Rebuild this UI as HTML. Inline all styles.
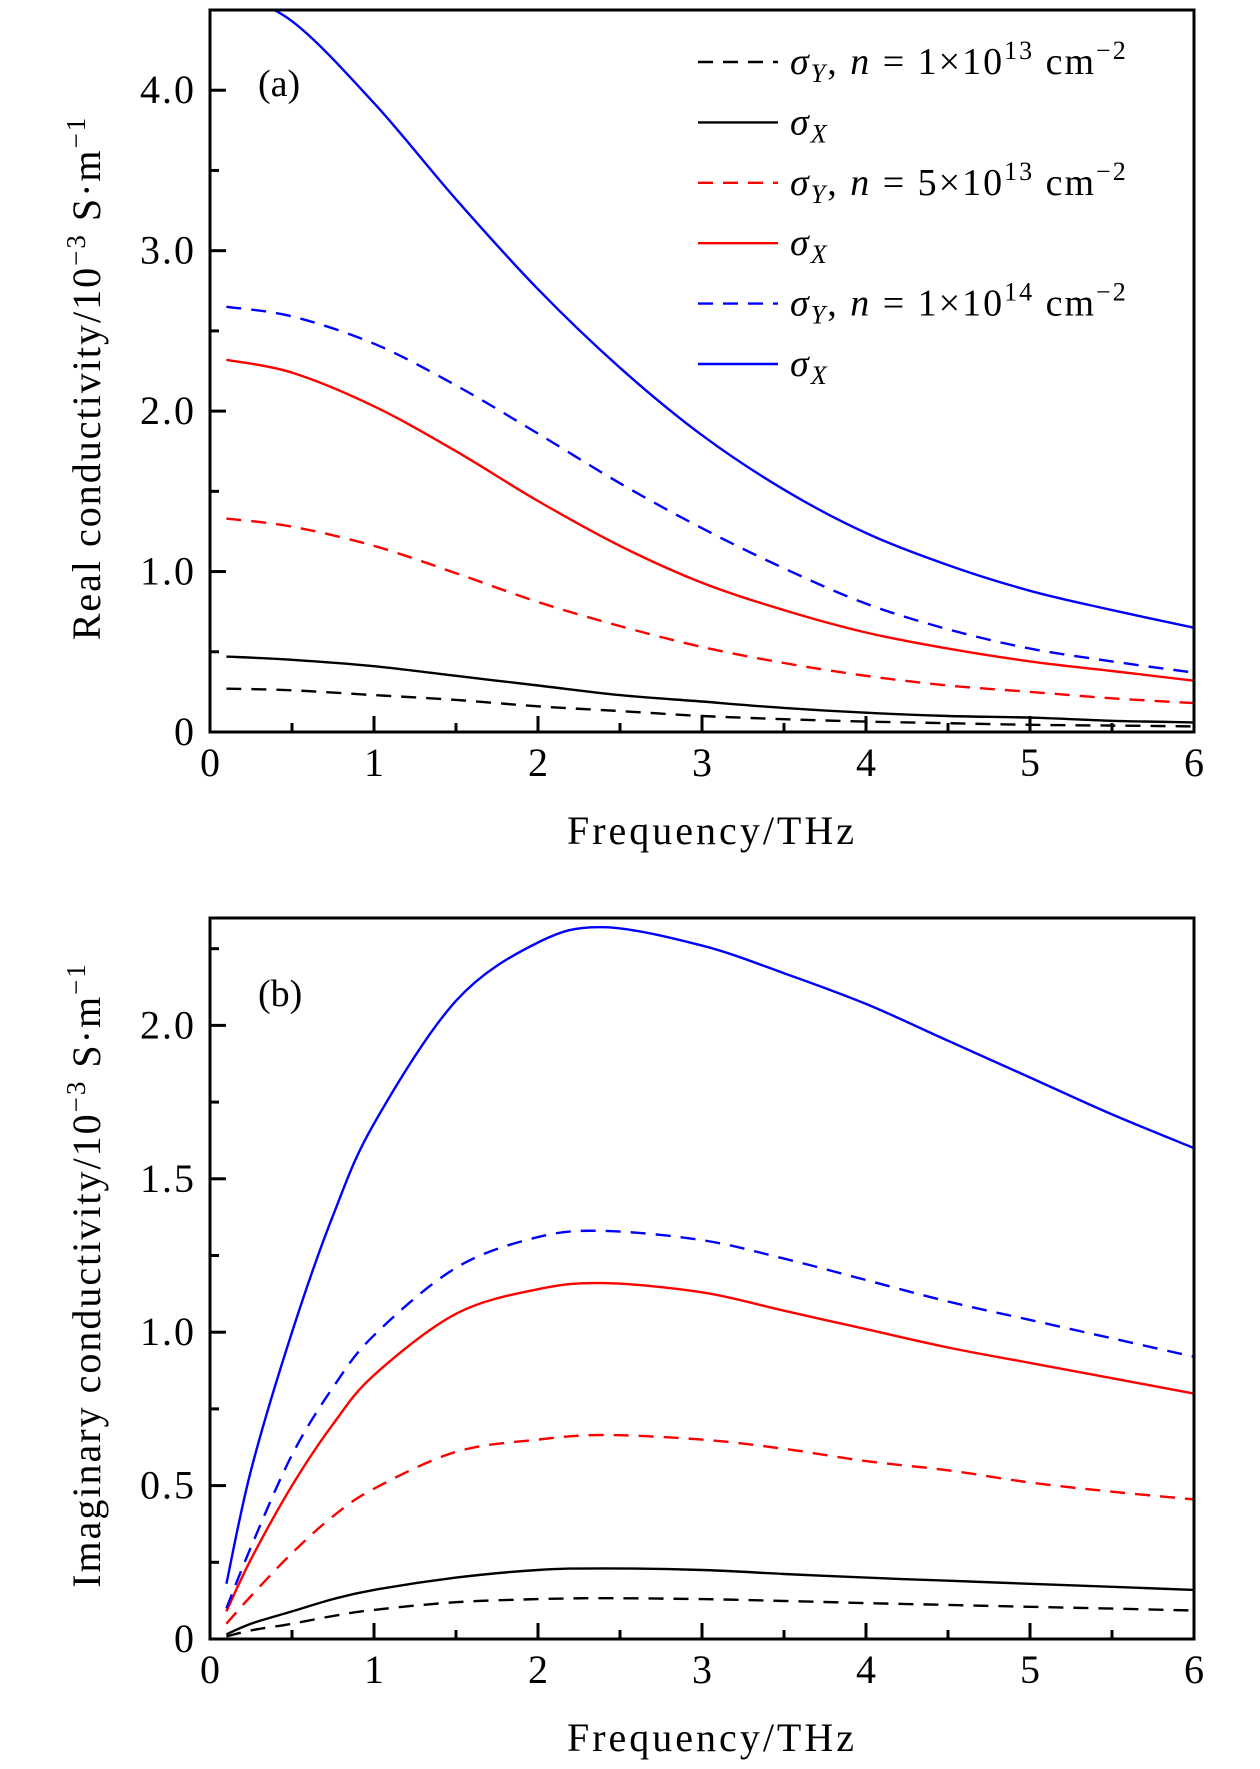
<!DOCTYPE html>
<html><head><meta charset="utf-8"><style>
html,body{margin:0;padding:0;background:#fff}
svg text{font-family:"Liberation Serif",serif;fill:#000}
</style></head><body>
<svg id="fig" width="1260" height="1764" viewBox="0 0 1260 1764" xmlns="http://www.w3.org/2000/svg">
<defs>
<clipPath id="clipA"><rect x="210" y="10" width="984" height="722"/></clipPath>
<clipPath id="clipB"><rect x="210" y="918" width="984" height="721"/></clipPath>
</defs>
<g id="gA"></g>
<g id="gB"></g>
</svg>
<script>
// ---- data ----
const xA = [0.1,0.5,1,1.5,2,2.5,3,3.5,4,4.5,5,5.5,6];
const aBlueX = [4.62,4.43,3.92,3.32,2.76,2.27,1.85,1.51,1.24,1.04,0.88,0.76,0.65];
const aBlueY = [2.65,2.59,2.42,2.16,1.86,1.55,1.27,1.02,0.8,0.64,0.52,0.44,0.37];
const aRedX = [2.32,2.24,2.03,1.75,1.44,1.16,0.93,0.76,0.62,0.52,0.44,0.38,0.32];
const aRedY = [1.33,1.28,1.16,0.99,0.81,0.66,0.53,0.43,0.35,0.29,0.25,0.21,0.18];
const aBlackX = [0.47,0.45,0.41,0.35,0.29,0.23,0.19,0.15,0.12,0.1,0.09,0.07,0.06];
const aBlackY = [0.27,0.26,0.23,0.2,0.16,0.13,0.1,0.08,0.065,0.055,0.045,0.04,0.035];
const xB = [0.1,0.25,0.5,0.75,1,1.5,2,2.4,3,3.5,4,4.5,5,5.5,6];
const bBlueX = [0.18,0.55,1.0,1.38,1.68,2.08,2.27,2.32,2.26,2.17,2.07,1.95,1.83,1.71,1.6];
const bBlueY = [0.1,0.3,0.6,0.82,0.99,1.21,1.31,1.33,1.3,1.24,1.17,1.1,1.04,0.98,0.92];
const bRedX = [0.09,0.26,0.5,0.7,0.86,1.06,1.14,1.16,1.13,1.07,1.01,0.95,0.9,0.85,0.8];
const bRedY = [0.05,0.14,0.28,0.4,0.49,0.61,0.65,0.665,0.65,0.62,0.58,0.55,0.51,0.48,0.455];
const bBlackX = [0.015,0.05,0.09,0.13,0.16,0.2,0.225,0.23,0.225,0.212,0.2,0.19,0.18,0.17,0.16];
const bBlackY = [0.008,0.028,0.05,0.075,0.095,0.12,0.13,0.133,0.13,0.124,0.117,0.111,0.105,0.099,0.093];
const xTicks = [0,1,2,3,4,5,6];
const aYTicks = [0,1,2,3,4];
const aYLabels = ["0","1.0","2.0","3.0","4.0"];
const bYTicks = [0,0.5,1,1.5,2];
const bYLabels = ["0","0.5","1.0","1.5","2.0"];

const NS="http://www.w3.org/2000/svg";
function mk(tag, attrs, parent){const e=document.createElementNS(NS,tag);for(const k in attrs)e.setAttribute(k,attrs[k]);parent.appendChild(e);return e;}

function smooth(pts){
  let d='M'+pts[0][0].toFixed(1)+' '+pts[0][1].toFixed(1);
  for(let i=0;i<pts.length-1;i++){
    const p0=pts[i-1]||pts[i],p1=pts[i],p2=pts[i+1],p3=pts[i+2]||pts[i+1];
    const c1=[p1[0]+(p2[0]-p0[0])/6,p1[1]+(p2[1]-p0[1])/6];
    const c2=[p2[0]-(p3[0]-p1[0])/6,p2[1]-(p3[1]-p1[1])/6];
    d+=' C'+c1[0].toFixed(1)+' '+c1[1].toFixed(1)+' '+c2[0].toFixed(1)+' '+c2[1].toFixed(1)+' '+p2[0].toFixed(1)+' '+p2[1].toFixed(1);
  }
  return d;
}

function panel(g, top, bottom, ymax, yMajor, yMinorStep, yTicks, yLabels, clip, series, xs, label, ytitle, titleY){
  const L=210,R=1194;
  const sx=v=>L+(v/6)*(R-L);
  const sy=v=>bottom-(v/ymax)*(bottom-top);
  const sg=mk('g',{'clip-path':'url(#'+clip+')'},g);
  series.forEach(s=>{
    const pts=xs.map((x,i)=>[sx(x),sy(s.v[i])]);
    const p=mk('path',{d:smooth(pts),fill:'none',stroke:s.c,'stroke-width':2.4,'stroke-dasharray':s.dash?'15 10':'none'},sg);
    
    
  });
  const fr=mk('rect',{x:L,y:top,width:R-L,height:bottom-top,fill:'none',stroke:'#000','stroke-width':3},g);
  
  
  for(let v=0;v<=6.001;v+=0.5){
    const major=Math.abs(v-Math.round(v))<1e-6;
    mk('line',{x1:sx(v),x2:sx(v),y1:bottom,y2:bottom-(major?16:9),stroke:'#000','stroke-width':3},g);
  }
  xTicks.forEach(v=>{
    const t=mk('text',{x:sx(v),y:bottom+44,'font-size':40,'text-anchor':'middle'},g);
    t.textContent=String(v);
    
    
  });
  for(let v=0;v<=ymax+1e-6;v+=yMinorStep){
    const major=Math.abs(v/yMajor-Math.round(v/yMajor))<1e-6;
    mk('line',{x1:L,x2:L+(major?16:9),y1:sy(v),y2:sy(v),stroke:'#000','stroke-width':3},g);
  }
  yTicks.forEach((v,i)=>{
    const t=mk('text',{x:L-14,y:sy(v)+13,'font-size':40,'text-anchor':'end','letter-spacing':2},g);
    t.textContent=yLabels[i];
    
    
  });
  const xt=mk('text',{x:712,y:bottom+112,'font-size':40,'text-anchor':'middle','letter-spacing':3},g);
  xt.textContent='Frequency/THz';
  
  
  const yt=mk('text',{x:0,y:0,'font-size':40,'text-anchor':'middle','letter-spacing':2,transform:'translate(100,'+titleY+') rotate(-90)'},g);
  yt.innerHTML=ytitle+'/10<tspan dy="-15" font-size="27">−3</tspan><tspan dy="15"> S·m</tspan><tspan dy="-15" font-size="27">−1</tspan>';
  
  
  const pl=mk('text',{x:258,y:label.y,'font-size':38},g);
  pl.textContent=label.t;
  
  
}
const gA=document.getElementById('gA'), gB=document.getElementById('gB');
panel(gA,10,732,4.5,1,0.5,aYTicks,aYLabels,'clipA',[
 {v:aBlackY,c:'#000',dash:true,name:'sigma-y-n1e13'},{v:aBlackX,c:'#000',dash:false,name:'sigma-x-n1e13'},
 {v:aRedY,c:'#f00',dash:true,name:'sigma-y-n5e13'},{v:aRedX,c:'#f00',dash:false,name:'sigma-x-n5e13'},
 {v:aBlueY,c:'#00f',dash:true,name:'sigma-y-n1e14'},{v:aBlueX,c:'#00f',dash:false,name:'sigma-x-n1e14'}],xA,{t:'(a)',y:96},'Real conductivity',378);
panel(gB,918,1639,2.35,0.5,0.25,bYTicks,bYLabels,'clipB',[
 {v:bBlackY,c:'#000',dash:true,name:'sigma-y-n1e13'},{v:bBlackX,c:'#000',dash:false,name:'sigma-x-n1e13'},
 {v:bRedY,c:'#f00',dash:true,name:'sigma-y-n5e13'},{v:bRedX,c:'#f00',dash:false,name:'sigma-x-n5e13'},
 {v:bBlueY,c:'#00f',dash:true,name:'sigma-y-n1e14'},{v:bBlueX,c:'#00f',dash:false,name:'sigma-x-n1e14'}],xB,{t:'(b)',y:1006},'Imaginary conductivity',1275);

const legRows=[
 {c:'#000',dash:true,sub:'Y',n:'1',e:'13'},{c:'#000',dash:false,sub:'X'},
 {c:'#f00',dash:true,sub:'Y',n:'5',e:'13'},{c:'#f00',dash:false,sub:'X'},
 {c:'#00f',dash:true,sub:'Y',n:'1',e:'14'},{c:'#00f',dash:false,sub:'X'}];
const leg=mk('g',{},gA);


legRows.forEach((r,i)=>{
  const y=62+i*60.4;
  mk('line',{x1:698,x2:778,y1:y,y2:y,stroke:r.c,'stroke-width':2.4,'stroke-dasharray':r.dash?'15 10':'none'},leg);
  const t=mk('text',{x:790,y:y+12,'font-size':38,'letter-spacing':2},leg);
  let h='<tspan font-style="italic">σ</tspan><tspan font-size="26" font-style="italic" dy="8">'+r.sub+'</tspan>';
  if(r.n){h+='<tspan dy="-8">,  </tspan><tspan font-style="italic">n</tspan> = '+r.n+'×10<tspan font-size="26" dy="-15">'+r.e+'</tspan><tspan dy="15"> cm</tspan><tspan font-size="26" dy="-15">−2</tspan>';}
  t.innerHTML=h;
  
  
});
</script>
</body></html>
